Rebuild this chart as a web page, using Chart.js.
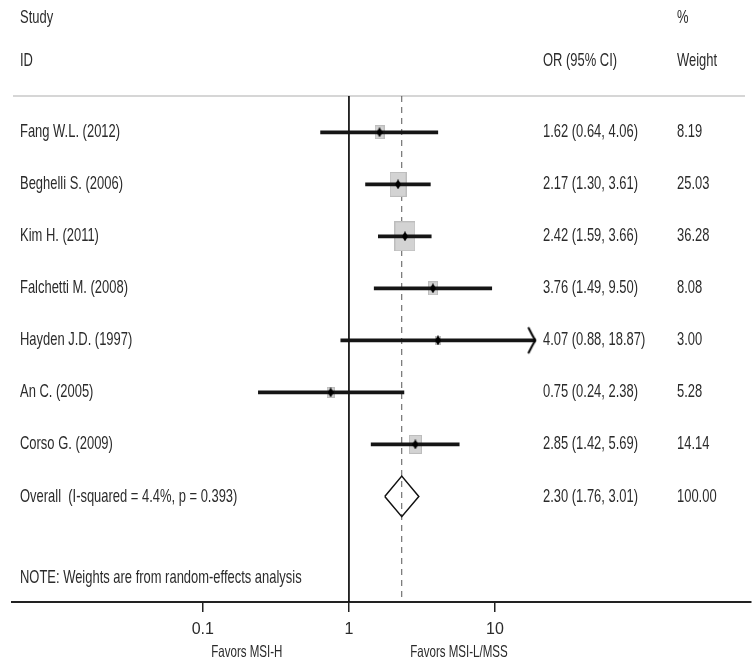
<!DOCTYPE html>
<html>
<head>
<meta charset="utf-8">
<script src="https://cdn.jsdelivr.net/npm/chart.js@4"></script>
<style>
  body { margin: 0; background: #fff; }
  canvas { display: block; }
</style>
</head>
<body>
<canvas id="forest" width="756" height="671"></canvas>
<script>
// Forest plot: MSI-H vs MSI-L/MSS
const studies = ['Fang W.L. (2012)', 'Beghelli S. (2006)', 'Kim H. (2011)', 'Falchetti M. (2008)',
                 'Hayden J.D. (1997)', 'An C. (2005)', 'Corso G. (2009)'];
const oddsRatios = [1.62, 2.17, 2.42, 3.76, 4.07, 0.75, 2.85];
const ciLow = [0.64, 1.30, 1.59, 1.49, 0.88, 0.24, 1.42];
const ciHigh = [4.06, 3.61, 3.66, 9.50, 18.87, 2.38, 5.69];
const weights = [8.19, 25.03, 36.28, 8.08, 3.00, 5.28, 14.14];

const overallLabel = 'Overall  (I-squared = 4.4%, p = 0.393)';
const overallOr = 2.30;
const overallLow = 1.76;
const overallHigh = 3.01;
const overallWeight = 100.00;

const xTicks = [0.1, 1, 10];
const favorLabels = ['Favors MSI-H', 'Favors MSI-L/MSS'];
const arrowFrom = 15; // CI above this gets an arrow head

// row layout
const overallRow = studies.length;
const yMin = -0.698, yMax = 9.03;
const xMin = 0.00494, xMax = 565.6;

const textColor = '#2b2b2b';
const squeeze = 0.7;

function fmt(v) { return v.toFixed(2); }

function makeCanvas(w, h, draw) {
    const c = document.createElement('canvas');
    c.width = w; c.height = h;
    draw(c.getContext('2d'), w, h);
    return c;
}

// weight boxes (area ~ weight)
const boxImages = weights.map(w => {
    const bw = Math.round(3.44 * Math.sqrt(w));
    const bh = Math.round(4.98 * Math.sqrt(w));
    return makeCanvas(bw, bh, (ctx, cw, ch) => {
        ctx.fillStyle = '#d3d3d3';
        ctx.fillRect(0, 0, cw, ch);
        ctx.strokeStyle = '#bdbdbd';
        ctx.lineWidth = 1;
        ctx.strokeRect(0.5, 0.5, cw - 1, ch - 1);
    });
});

const dotImage = makeCanvas(6, 10, (ctx) => {
    ctx.fillStyle = '#000';
    ctx.beginPath();
    ctx.moveTo(3, 0); ctx.lineTo(6, 5); ctx.lineTo(3, 10); ctx.lineTo(0, 5);
    ctx.closePath();
    ctx.fill();
});

const arrowImage = makeCanvas(20, 30, (ctx) => {
    ctx.strokeStyle = '#000';
    ctx.lineWidth = 2;
    ctx.beginPath();
    ctx.moveTo(3, 2);
    ctx.quadraticCurveTo(7, 10, 10, 15);
    ctx.quadraticCurveTo(7, 20, 3, 28);
    ctx.stroke();
});

function drawSqueezed(ctx, text, x, y, size, align) {
    ctx.save();
    ctx.font = size + 'px "Liberation Sans", Arial, sans-serif';
    ctx.fillStyle = textColor;
    ctx.textBaseline = 'middle';
    ctx.textAlign = align || 'left';
    ctx.translate(x, y);
    ctx.scale(squeeze, 1);
    ctx.fillText(text, 0, 0);
    ctx.restore();
}

const tablePlugin = {
    id: 'table',
    beforeDatasetsDraw(chart) {
        const ctx = chart.ctx;
        const area = chart.chartArea;
        ctx.save();
        ctx.strokeStyle = '#c8c8c8';
        ctx.lineWidth = 1.5;
        ctx.beginPath();
        ctx.moveTo(13, area.top);
        ctx.lineTo(745, area.top);
        ctx.stroke();
        ctx.restore();
    },
    afterDraw(chart) {
        const ctx = chart.ctx;
        const y = chart.scales.y;
        const x = chart.scales.x;
        const fs = 18.5;

        drawSqueezed(ctx, 'Study', 20, 18, fs);
        drawSqueezed(ctx, 'ID', 20, 61, fs);
        drawSqueezed(ctx, '%', 677, 18, fs);
        drawSqueezed(ctx, 'OR (95% CI)', 543, 61, fs);
        drawSqueezed(ctx, 'Weight', 677, 61, fs);

        studies.forEach((name, i) => {
            const py = y.getPixelForValue(i);
            drawSqueezed(ctx, name, 20, py, fs);
            drawSqueezed(ctx, `${fmt(oddsRatios[i])} (${fmt(ciLow[i])}, ${fmt(ciHigh[i])})`, 543, py, fs);
            drawSqueezed(ctx, fmt(weights[i]), 677, py, fs);
        });
        const oy = y.getPixelForValue(overallRow);
        drawSqueezed(ctx, overallLabel, 20, oy, fs);
        drawSqueezed(ctx, `${fmt(overallOr)} (${fmt(overallLow)}, ${fmt(overallHigh)})`, 543, oy, fs);
        drawSqueezed(ctx, fmt(overallWeight), 677, oy, fs);

        drawSqueezed(ctx, 'NOTE: Weights are from random-effects analysis', 20, 578, fs);

        // favours labels under the axis
        drawSqueezed(ctx, favorLabels[0], x.getPixelForValue(0.1) + 44, 652, 16.5, 'center');
        drawSqueezed(ctx, favorLabels[1], x.getPixelForValue(10) - 36, 652, 16.5, 'center');
    }
};

const ctx = document.getElementById('forest').getContext('2d');
new Chart(ctx, {
    type: 'scatter',
    data: {
        datasets: [
            {
                type: 'line',
                data: [{ x: 1, y: yMin }, { x: 1, y: yMax }],
                borderColor: '#111',
                borderWidth: 1,
                pointRadius: 0,
                order: 10
            },
            {
                type: 'line',
                data: [{ x: overallOr, y: yMin }, { x: overallOr, y: yMax }],
                borderColor: '#555',
                borderWidth: 1,
                borderDash: [6, 5],
                pointRadius: 0,
                order: 9
            },
            {
                type: 'bar',
                indexAxis: 'y',
                data: studies.map((s, i) => ({ x: [ciLow[i], ciHigh[i]], y: i })),
                backgroundColor: '#151515',
                barThickness: 3,
                order: 7
            },
            {
                data: oddsRatios.map((v, i) => ({ x: v, y: i })),
                pointStyle: c => boxImages[c.dataIndex],
                order: 8
            },
            {
                data: oddsRatios.map((v, i) => ({ x: v, y: i })),
                pointStyle: dotImage,
                order: 3
            },
            {
                data: ciHigh.map((v, i) => ({ x: v, y: i })).filter(p => p.x > arrowFrom),
                pointStyle: arrowImage,
                order: 3
            },
            {
                type: 'line',
                data: [
                    { x: overallLow, y: overallRow },
                    { x: overallOr, y: overallRow - 0.39 },
                    { x: overallHigh, y: overallRow },
                    { x: overallOr, y: overallRow + 0.39 },
                    { x: overallLow, y: overallRow }
                ],
                borderColor: '#111',
                borderWidth: 1.5,
                pointRadius: 0,
                tension: 0,
                fill: false,
                order: 2
            }
        ]
    },
    options: {
        responsive: false,
        animation: false,
        events: [],
        layout: { padding: { top: 96, left: 12, right: 4, bottom: 0 } },
        plugins: {
            legend: { display: false },
            tooltip: { enabled: false }
        },
        scales: {
            x: {
                type: 'logarithmic',
                min: xMin,
                max: xMax,
                offset: false,
                afterBuildTicks: scale => { scale.ticks = xTicks.map(v => ({ value: v })); },
                afterFit: scale => { scale.height = 69; },
                border: { display: true, color: '#222', width: 2 },
                grid: { offset: false, drawOnChartArea: false, drawTicks: true, tickLength: 10, color: '#222', lineWidth: 1.5 },
                ticks: {
                    autoSkip: false,
                    maxRotation: 0,
                    padding: 8,
                    color: textColor,
                    font: { family: '"Liberation Sans", Arial, sans-serif', size: 16 },
                    callback: v => String(v)
                }
            },
            y: {
                type: 'linear',
                reverse: true,
                min: yMin,
                max: yMax,
                offset: false,
                grid: { offset: false },
                display: false
            }
        }
    },
    plugins: [tablePlugin]
});
</script>
</body>
</html>
